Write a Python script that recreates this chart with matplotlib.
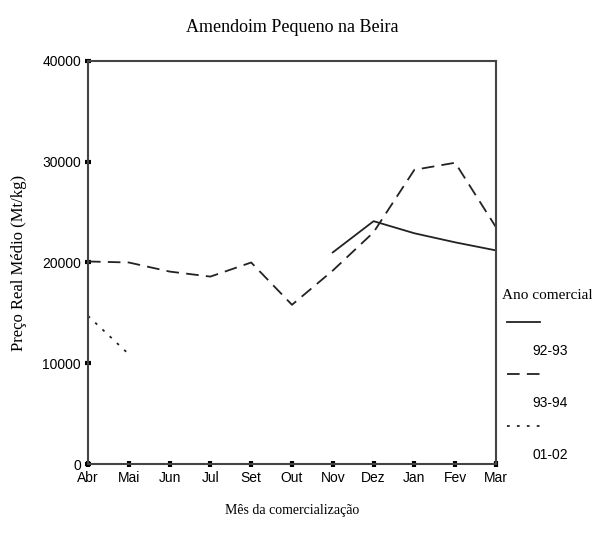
import matplotlib
matplotlib.use("Agg")
import matplotlib.pyplot as plt
from matplotlib.lines import Line2D

months = ["Abr", "Mai", "Jun", "Jul", "Set", "Out", "Nov", "Dez", "Jan", "Fev", "Mar"]
# 92-93 starts in Nov
p9293 = [None, None, None, None, None, None, 21000, 24100, 22900, 22000, 21200]
p9394 = [20100, 20000, 19100, 18600, 20000, 15800, 19200, 23000, 29200, 29900, 23500]
p0102 = [14700, 10900, None, None, None, None, None, None, None, None, None]
series_names = ["92-93", "93-94", "01-02"]
yticks = [0, 10000, 20000, 30000, 40000]

serif = ["Liberation Serif", "DejaVu Serif"]
sans = ["Liberation Sans", "DejaVu Sans"]

fig = plt.figure(figsize=(5.92, 5.42), dpi=100)
ax = fig.add_axes([0.1486, 0.1439, 0.6892, 0.7436])

x = list(range(len(months)))

def pts(vals):
    xs = [i for i, v in zip(x, vals) if v is not None]
    ys = [v for v in vals if v is not None]
    return xs, ys

styles = [
    dict(linestyle="-"),
    dict(linestyle=(0, (7, 4))),
    dict(linestyle=(0, (1.5, 4))),
]
for vals, st in zip([p9293, p9394, p0102], styles):
    xs, ys = pts(vals)
    ax.plot(xs, ys, color="#222222", linewidth=1.3, **st)

ax.set_xlim(0, len(months) - 1)
ax.set_ylim(0, 40000)
ax.set_xticks(x)
ax.set_xticklabels(months, fontfamily=sans, fontsize=10)
ax.set_yticks(yticks)
ax.set_yticklabels([str(t) for t in yticks], fontfamily=sans, fontsize=10)
ax.tick_params(direction="inout", length=4, width=3, color="black", pad=3)
for s in ax.spines.values():
    s.set_linewidth(1.5)
    s.set_color("#444444")

fig.text(0.4932, 0.95, "Amendoim Pequeno na Beira", ha="center", va="center",
         fontfamily=serif, fontsize=13)
fig.text(0.4932, 0.059, "Mês da comercialização", ha="center", va="center",
         fontfamily=serif, fontsize=10)
fig.text(0.032, 0.515, "Preço Real Médio (Mt/kg)", ha="center", va="center",
         rotation=90, fontfamily=serif, fontsize=12)

# legend drawn beside the axes, label under each line sample
fig.text(0.848, 0.455, "Ano comercial", ha="left", va="center",
         fontfamily=serif, fontsize=11)
leg_y = [0.406, 0.310, 0.214]
for yy, st, name in zip(leg_y, styles, series_names):
    fig.add_artist(Line2D([0.857, 0.912], [yy, yy], transform=fig.transFigure,
                          color="#222222", linewidth=1.3, **st))
    fig.text(0.9, yy - 0.053, name, ha="left", va="center",
             fontfamily=sans, fontsize=10)

fig.savefig("out.png", dpi=100)
